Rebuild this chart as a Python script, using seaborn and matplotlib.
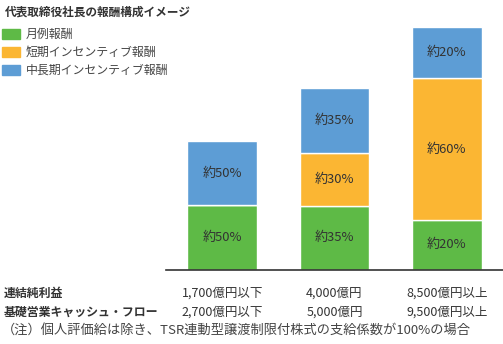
import matplotlib
matplotlib.use("Agg")
import matplotlib.pyplot as plt
import seaborn as sns
import numpy as np
import pandas as pd
import matplotlib.transforms as mtransforms

sns.set_theme(style="white")
plt.rcParams['font.family'] = ['Noto Sans CJK JP', 'DejaVu Sans']

categories = ["A", "B", "C"]
monthly = [64, 63.3, 49]
short_term = [0, 53.4, 142.3]
long_term = [64, 64, 50.4]
monthly_lbl = ["約50%", "約35%", "約20%"]
short_lbl = ["", "約30%", "約60%"]
long_lbl = ["約50%", "約35%", "約20%"]
series_names = ["月例報酬", "短期インセンティブ報酬", "中長期インセンティブ報酬"]
colors = ["#5eba46", "#fbb633", "#5d9dd5"]
net_profit = ["1,700億円以下", "4,000億円", "8,500億円以上"]
cash_flow = ["2,700億円以下", "5,000億円", "9,500億円以上"]

fig = plt.figure(figsize=(5.03, 3.44), dpi=100)
W, H = 503, 344
ax = fig.add_axes([166 / W, (H - 269.5) / H, (503 - 166) / W, (269.5 - 27.3) / H])

df = pd.DataFrame({"cat": categories, "m": monthly, "s": short_term, "l": long_term})
bottoms_s = np.array(monthly)
bottoms_l = bottoms_s + np.array(short_term)
sns.barplot(data=df, x="cat", y="m", color=colors[0], width=0.62, ax=ax, saturation=1)
sns.barplot(data=df, x="cat", y="s", color=colors[1], width=0.62, ax=ax, saturation=1, bottom=bottoms_s)
sns.barplot(data=df, x="cat", y="l", color=colors[2], width=0.62, ax=ax, saturation=1, bottom=bottoms_l)

ax.set_xlim(-0.5, 2.5)
ax.set_ylim(0, float(np.max(bottoms_l + np.array(long_term))))
ax.set_xlabel("")
ax.set_ylabel("")
ax.set_xticks([])
ax.set_yticks([])
for sp in ["top", "right", "left"]:
    ax.spines[sp].set_visible(False)
ax.spines["bottom"].set_color("#333333")
ax.spines["bottom"].set_linewidth(1.2)

for i in range(3):
    segs = [(0, monthly[i], monthly_lbl[i]),
            (bottoms_s[i], short_term[i], short_lbl[i]),
            (bottoms_l[i], long_term[i], long_lbl[i])]
    for b, h, t in segs:
        if h > 0 and t:
            ax.text(i, b + h / 2, t, ha="center", va="center", fontsize=9.4, color="#333333")

# Title & legend
fig.text(5 / W, 1 - 12 / H, "代表取締役社長の報酬構成イメージ", fontsize=8.4, fontweight="bold",
         color="#333333", ha="left", va="center")
leg_y = [34, 52, 70]
for y, name, c in zip(leg_y, series_names, colors):
    fig.patches.append(plt.Rectangle((2 / W, 1 - (y + 5) / H), 18 / W, 10 / H,
                                     transform=fig.transFigure, color=c))
    fig.text(26 / W, 1 - y / H, name, fontsize=8.6, color="#444444", ha="left", va="center")

# Bottom table
trans = mtransforms.blended_transform_factory(ax.transData, fig.transFigure)
rows = [("連結純利益", net_profit, 293), ("基礎営業キャッシュ・フロー", cash_flow, 312)]
for label, vals, y in rows:
    fig.text(4 / W, 1 - y / H, label, fontsize=8.6, fontweight="bold", color="#333333",
             ha="left", va="center")
    for i, v in enumerate(vals):
        ax.text(i, 1 - y / H, v, transform=trans, fontsize=9, color="#333333",
                ha="center", va="center", clip_on=False)
fig.text(2 / W, 1 - 331 / H, "（注）個人評価給は除き、TSR連動型譲渡制限付株式の支給係数が100%の場合",
         fontsize=9.5, color="#444444", ha="left", va="center")

fig.savefig("out.png", dpi=100, facecolor="white")
